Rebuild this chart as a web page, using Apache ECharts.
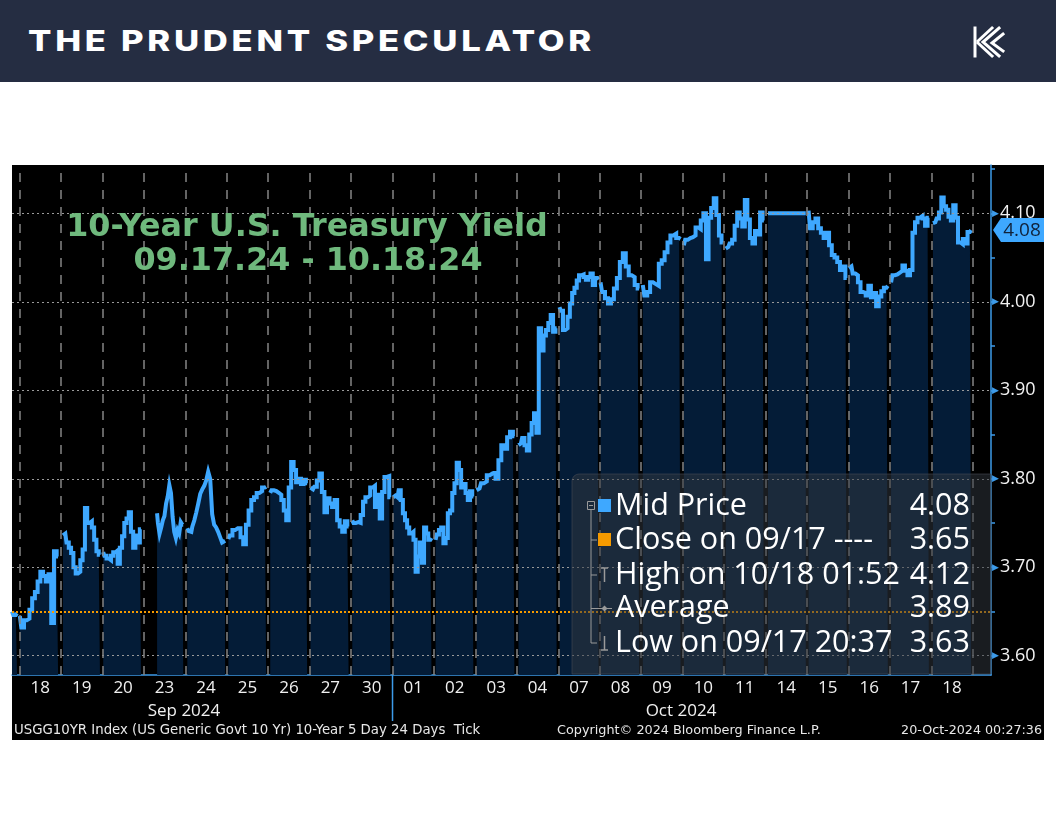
<!DOCTYPE html>
<html>
<head>
<meta charset="utf-8">
<script src="https://cdn.jsdelivr.net/npm/echarts@6/dist/echarts.min.js"></script>
<style>
html,body{margin:0;padding:0;background:#ffffff;}
#wrap{position:relative;width:1056px;height:816px;overflow:hidden;background:#ffffff;}
#chart{position:absolute;left:0;top:0;width:1056px;height:816px;}
#hdr{position:absolute;left:0;top:0;width:1056px;height:82px;background:#252d42;z-index:5;}
#hdrText{position:absolute;left:28px;top:0;height:82px;line-height:82px;color:#ffffff;font-family:Inter,'DejaVu Sans',sans-serif;font-weight:800;font-size:28px;letter-spacing:3px;white-space:nowrap;transform-origin:0 50%;}
#logo{position:absolute;left:968px;top:22px;}
</style>
</head>
<body>
<div id="wrap">
  <div id="chart"></div>
  <div id="hdr">
    <div id="hdrText">THE PRUDENT SPECULATOR</div>
    <svg id="logo" width="40" height="40" viewBox="0 0 40 40">
      <g fill="none" stroke="#ffffff" stroke-width="3" stroke-linecap="square">
        <path d="M7 6 L7 34"/>
        <path d="M31 6 L15 20 L31 34"/>
        <path d="M24 6 L10 19"/>
        <path d="M10 21 L24 34"/>
        <path d="M35 12 L24 21 L35 29"/>
      </g>
    </svg>
  </div>
</div>
<script>
// ---------------- DATA ----------------
const dayLabels = ['18','19','20','23','24','25','26','27','30','01','02','03','04','07','08','09','10','11','14','15','16','17','18'];
const monthLabels = ['Sep 2024', 'Oct 2024'];
const yLabelValues = [3.60, 3.70, 3.80, 3.90, 4.00, 4.10];
const yTickValues = [3.60, 3.65, 3.70, 3.75, 3.80, 3.85, 3.90, 3.95, 4.00, 4.05, 4.10, 4.15];

// intraday mid yields per trading session
const sep17 = [3.650, 3.646, 3.648];
const sep18 = [3.645, 3.632, 3.640, 3.642, 3.652, 3.665, 3.672, 3.684, 3.695, 3.690, 3.684, 3.692, 3.637, 3.718, 3.712];
const sep19 = [3.736, 3.738, 3.728, 3.722, 3.716, 3.700, 3.693, 3.695, 3.708, 3.720, 3.767, 3.750, 3.752, 3.745, 3.731, 3.718, 3.714];
const sep20 = [3.717, 3.713, 3.710, 3.708, 3.713, 3.717, 3.719, 3.704, 3.722, 3.735, 3.750, 3.755, 3.762, 3.740, 3.722, 3.736, 3.728, 3.743];
const sep23 = [3.761, 3.750, 3.738, 3.745, 3.753, 3.758, 3.772, 3.780, 3.793, 3.784, 3.757, 3.740, 3.733, 3.742, 3.738, 3.751, 3.748];
const sep24 = [3.744, 3.741, 3.740, 3.746, 3.753, 3.762, 3.772, 3.783, 3.788, 3.792, 3.798, 3.808, 3.800, 3.760, 3.748, 3.745, 3.740, 3.734, 3.728, 3.730];
const sep25 = [3.732, 3.736, 3.742, 3.744, 3.744, 3.734, 3.726, 3.748, 3.764, 3.776, 3.779, 3.784, 3.786, 3.790, 3.791];
const sep26 = [3.784, 3.787, 3.786, 3.784, 3.782, 3.776, 3.764, 3.753, 3.790, 3.819, 3.810, 3.796, 3.800, 3.794, 3.799, 3.795];
const sep27 = [3.790, 3.788, 3.791, 3.798, 3.806, 3.785, 3.762, 3.778, 3.772, 3.768, 3.776, 3.753, 3.746, 3.740, 3.752, 3.746];
const sep30 = [3.753, 3.750, 3.751, 3.750, 3.759, 3.774, 3.779, 3.781, 3.790, 3.792, 3.768, 3.782, 3.755, 3.785, 3.802, 3.803, 3.779];
const oct01 = [3.779, 3.781, 3.779, 3.787, 3.776, 3.761, 3.753, 3.745, 3.738, 3.740, 3.731, 3.695, 3.712, 3.728, 3.705, 3.745, 3.738, 3.731, 3.733];
const oct02 = [3.731, 3.737, 3.742, 3.745, 3.727, 3.733, 3.761, 3.764, 3.784, 3.795, 3.818, 3.810, 3.790, 3.794, 3.784, 3.776, 3.786, 3.780];
const oct03 = [3.787, 3.789, 3.795, 3.797, 3.804, 3.806, 3.807, 3.800, 3.821, 3.838, 3.834, 3.847, 3.853, 3.848];
const oct04 = [3.838, 3.840, 3.846, 3.838, 3.832, 3.850, 3.863, 3.874, 3.852, 3.970, 3.945, 3.962, 3.968, 3.976, 3.985, 3.966, 3.970];
const oct07 = [3.994, 3.990, 3.968, 3.970, 3.983, 3.998, 4.010, 4.016, 4.024, 4.030, 4.031, 4.028, 4.025, 4.028, 4.032, 4.019, 4.027, 4.025];
const oct08 = [4.022, 4.011, 4.004, 3.998, 4.003, 4.015, 4.027, 4.045, 4.055, 4.040, 4.030, 4.028, 4.019, 4.015];
const oct09 = [4.019, 4.007, 4.011, 4.022, 4.020, 4.018, 4.043, 4.047, 4.056, 4.067, 4.075, 4.077, 4.072, 4.071];
const oct10 = [4.064, 4.070, 4.072, 4.073, 4.075, 4.084, 4.082, 4.092, 4.100, 4.048, 4.095, 4.106, 4.117, 4.098, 4.075, 4.067];
const oct11 = [4.060, 4.062, 4.066, 4.070, 4.086, 4.101, 4.094, 4.085, 4.115, 4.093, 4.072, 4.066, 4.080, 4.076, 4.101, 4.092];
const oct14 = [4.100, 4.100, 4.100, 4.100, 4.100, 4.100, 4.100, 4.100];
const oct15 = [4.103, 4.083, 4.090, 4.094, 4.083, 4.078, 4.072, 4.078, 4.064, 4.053, 4.050, 4.045, 4.036, 4.040, 4.027];
const oct16 = [4.038, 4.040, 4.032, 4.030, 4.022, 4.011, 4.010, 4.007, 4.018, 4.005, 4.010, 3.995, 4.006, 4.012, 4.016, 4.018];
const oct17 = [4.022, 4.030, 4.031, 4.033, 4.035, 4.041, 4.035, 4.030, 4.036, 4.078, 4.090, 4.095, 4.097, 4.094, 4.086, 4.095];
const oct18 = [4.089, 4.090, 4.094, 4.101, 4.118, 4.108, 4.104, 4.096, 4.092, 4.109, 4.095, 4.067, 4.065, 4.071, 4.066, 4.079, 4.081];

// session open / close times, in trading-day units (0 = start of Sep 18 slot)
const sessionOpen  = [-0.18, 0.01, 1.05, 2.02, 3.32, 4.05, 5.04, 6.05, 7.02, 8.03, 9.02, 10.04, 11.03, 12.04, 13.03, 14.02, 15.04, 16.03, 17.04, 18.06, 19.04, 20.01, 21.03, 22.04];
const sessionClose = [-0.06, 0.93, 1.94, 2.93, 3.95, 4.96, 5.95, 6.94, 7.94, 8.95, 9.94, 10.95, 11.94, 12.96, 13.97, 14.95, 15.95, 16.97, 17.96, 18.97, 19.96, 20.95, 21.94, 22.96];
const sessions = [sep17, sep18, sep19, sep20, sep23, sep24, sep25, sep26, sep27, sep30, oct01, oct02, oct03, oct04, oct07, oct08, oct09, oct10, oct11, oct14, oct15, oct16, oct17, oct18];

// legend statistics
const closeSep17 = 3.65;
const highValue = 4.12;
const averageValue = 3.89;
const lowValue = 3.63;
const legendLabels = ['Mid Price', 'Close on 09/17 ----', 'High on 10/18 01:52', 'Average', 'Low on 09/17 20:37'];

// ---------------- BUILD ----------------
const points = [];
sessions.forEach((vals, i) => {
  const a = sessionOpen[i], b = sessionClose[i];
  if (i > 0) points.push([a - 0.002, '-']);
  vals.forEach((v, j) => points.push([a + (b - a) * j / (vals.length - 1), v]));
  points.push([b + 0.002, '-']);
});
const lastValue = oct18[oct18.length - 1];
const legendValues = [lastValue, closeSep17, highValue, averageValue, lowValue].map(v => v.toFixed(2));

const BLUE = '#3ea8ff';
const AXISBLUE = '#3d9be9';
const labelFont = "'Open Sans', 'Noto Sans', sans-serif";

const dayBoundaries = [];
for (let k = 0; k <= dayLabels.length; k++) dayBoundaries.push(k);
const dayCenters = dayLabels.map((d, i) => i + 0.5);

const chart = echarts.init(document.getElementById('chart'), null, {renderer: 'canvas'});

const option = {
  animation: false,
  backgroundColor: 'transparent',
  grid: {left: 12, right: 65, top: 165, bottom: 141, containLabel: false},
  xAxis: {
    type: 'value', min: -0.181, max: 23.44,
    axisLine: {show: true, onZero: false, lineStyle: {color: AXISBLUE, width: 1.5}},
    axisTick: {show: false},
    splitLine: {show: false},
    axisLabel: {
      customValues: dayCenters,
      formatter: v => dayLabels[Math.round(v - 0.5)] || '',
      color: '#f0f0f0', fontSize: 17, fontFamily: labelFont, margin: 5
    }
  },
  yAxis: {
    type: 'value', position: 'right', min: 3.5782, max: 4.1546,
    axisLine: {show: true, onZero: false, lineStyle: {color: AXISBLUE, width: 1.5}},
    axisTick: {show: true, customValues: yTickValues, length: 4, lineStyle: {color: AXISBLUE, width: 1.5}},
    splitLine: {show: false},
    axisLabel: {
      customValues: yLabelValues, margin: 1,
      formatter: v => '{t|\u25B6}{v|' + v.toFixed(2) + '}',
      rich: {
        t: {fontSize: 9, color: AXISBLUE, fontFamily: 'DejaVu Sans', padding: [0, 1, 0, 0]},
        v: {fontSize: 18, color: '#f2f2f2', fontFamily: labelFont}
      }
    }
  },
  series: [
    {
      name: 'area', type: 'line', data: points, showSymbol: false, silent: true, z: 1,
      connectNulls: false, step: 'middle',
      lineStyle: {width: 0, opacity: 0},
      areaStyle: {color: '#041c37', opacity: 1}
    },
    {
      name: 'grid', type: 'line', data: [[0, 3.7]], showSymbol: false, silent: true, z: 2,
      lineStyle: {opacity: 0},
      markLine: {
        silent: true, symbol: ['none', 'none'], animation: false, label: {show: false},
        data: [
          ...yLabelValues.map(v => ({yAxis: v, lineStyle: {color: '#9a9a9a', width: 1, type: [2, 3]}})),
          ...dayBoundaries.map(k => ({xAxis: k, lineStyle: {color: '#858585', width: 1.5, type: [9, 8]}}))
        ]
      }
    },
    {
      name: 'Mid Price', type: 'line', data: points, showSymbol: false, silent: true, z: 3,
      connectNulls: false, step: 'middle',
      lineStyle: {color: BLUE, width: 4, join: 'miter'}
    },
    {
      name: 'close', type: 'line', data: [[0, closeSep17]], showSymbol: false, silent: true, z: 4,
      lineStyle: {opacity: 0},
      markLine: {
        silent: true, symbol: ['none', 'none'], animation: false, label: {show: false},
        data: [{yAxis: closeSep17, lineStyle: {color: '#f59a00', width: 2, type: [2, 2]}}]
      }
    }
  ]
};
chart.setOption(option);

// ---------------- ANNOTATIONS ----------------
const py = chart.convertToPixel({yAxisIndex: 0}, lastValue);
const xOct = chart.convertToPixel({xAxisIndex: 0}, 9);
const gray = '#9a9a9a';
const rowY = [506, 540, 575, 608.5, 643];
const els = [];
// black chart panel
els.push({type: 'rect', z: -100, shape: {x: 12, y: 165, width: 1032, height: 575}, style: {fill: '#000000'}});
// title
els.push({type: 'text', z: 60, style: {text: '10-Year U.S. Treasury Yield', x: 307, y: 228, align: 'center', verticalAlign: 'middle', fill: '#6fb97d', font: "bold 31.8px 'DejaVu Sans'"}});
els.push({type: 'text', z: 60, style: {text: '09.17.24 - 10.18.24', x: 308, y: 262, align: 'center', verticalAlign: 'middle', fill: '#6fb97d', font: "bold 31.8px 'DejaVu Sans'"}});
// month labels and separator
els.push({type: 'text', z: 60, style: {text: monthLabels[0], x: 184, y: 711, align: 'center', verticalAlign: 'middle', fill: '#f0f0f0', font: "17px " + labelFont}});
els.push({type: 'text', z: 60, style: {text: monthLabels[1], x: 681, y: 711, align: 'center', verticalAlign: 'middle', fill: '#f0f0f0', font: "17px " + labelFont}});
els.push({type: 'line', z: 60, shape: {x1: xOct, y1: 675, x2: xOct, y2: 721}, style: {stroke: AXISBLUE, lineWidth: 1.5}});
// footer
els.push({type: 'text', z: 60, style: {text: 'USGG10YR Index (US Generic Govt 10 Yr) 10-Year 5 Day 24 Days  Tick', x: 14, y: 731, align: 'left', verticalAlign: 'middle', fill: '#e8e8e8', font: "13.3px 'DejaVu Sans'"}});
els.push({type: 'text', z: 60, style: {text: 'Copyright\u00A9 2024 Bloomberg Finance L.P.', x: 557, y: 731, align: 'left', verticalAlign: 'middle', fill: '#e8e8e8', font: "12.8px 'DejaVu Sans'"}});
els.push({type: 'text', z: 60, style: {text: '20-Oct-2024 00:27:36', x: 1042, y: 731, align: 'right', verticalAlign: 'middle', fill: '#e8e8e8', font: "12.7px 'DejaVu Sans'"}});
// legend box
els.push({type: 'rect', z: 40, shape: {x: 572, y: 474, width: 419, height: 200, r: [7, 0, 0, 0]}, style: {fill: 'rgba(50,55,64,0.5)', stroke: 'rgba(70,75,85,0.6)', lineWidth: 1}});
els.push({type: 'rect', z: 41, shape: {x: 587.5, y: 501.5, width: 7, height: 8}, style: {fill: 'none', stroke: gray, lineWidth: 1}});
els.push({type: 'line', z: 41, shape: {x1: 589, y1: 505.5, x2: 593, y2: 505.5}, style: {stroke: gray, lineWidth: 1}});
els.push({type: 'line', z: 41, shape: {x1: 591, y1: 509.5, x2: 591, y2: 643}, style: {stroke: gray, lineWidth: 1}});
rowY.slice(1).forEach(y => els.push({type: 'line', z: 41, shape: {x1: 591, y1: y, x2: 597, y2: y}, style: {stroke: gray, lineWidth: 1}}));
els.push({type: 'rect', z: 41, shape: {x: 598, y: rowY[0] - 7, width: 13, height: 13}, style: {fill: BLUE}});
els.push({type: 'rect', z: 41, shape: {x: 598, y: rowY[1] - 7, width: 13, height: 13}, style: {fill: '#f59a00'}});
// high icon
els.push({type: 'line', z: 41, shape: {x1: 604.5, y1: rowY[2] - 7, x2: 604.5, y2: rowY[2] + 7}, style: {stroke: gray, lineWidth: 1.5}});
els.push({type: 'line', z: 41, shape: {x1: 601, y1: rowY[2] - 7, x2: 608, y2: rowY[2] - 7}, style: {stroke: gray, lineWidth: 1.5}});
// average icon
els.push({type: 'line', z: 41, shape: {x1: 597, y1: rowY[3], x2: 612, y2: rowY[3]}, style: {stroke: gray, lineWidth: 1}});
els.push({type: 'polygon', z: 41, shape: {points: [[604.5, rowY[3] - 3], [607.5, rowY[3]], [604.5, rowY[3] + 3], [601.5, rowY[3]]]}, style: {fill: gray}});
// low icon
els.push({type: 'line', z: 41, shape: {x1: 604.5, y1: rowY[4] - 7, x2: 604.5, y2: rowY[4] + 7}, style: {stroke: gray, lineWidth: 1.5}});
els.push({type: 'line', z: 41, shape: {x1: 601, y1: rowY[4] + 7, x2: 608, y2: rowY[4] + 7}, style: {stroke: gray, lineWidth: 1.5}});
legendLabels.forEach((t, i) => {
  els.push({type: 'text', z: 42, style: {text: t, x: 615, y: rowY[i], align: 'left', verticalAlign: 'middle', fill: '#ffffff', font: "30.5px " + labelFont}});
  els.push({type: 'text', z: 42, style: {text: legendValues[i], x: 970, y: rowY[i], align: 'right', verticalAlign: 'middle', fill: '#ffffff', font: "30.5px " + labelFont}});
});
// last value tag
els.push({type: 'polygon', z: 70, shape: {points: [[993, py], [1001, py - 12], [1044, py - 12], [1044, py + 12], [1001, py + 12]]}, style: {fill: BLUE}});
els.push({type: 'text', z: 71, style: {text: lastValue.toFixed(2), x: 1022, y: py + 0.5, align: 'center', verticalAlign: 'middle', fill: '#10223a', font: "19px " + labelFont}});

chart.setOption({graphic: {elements: els}});

// fit header text width
const ht = document.getElementById('hdrText');
const w = ht.getBoundingClientRect().width;
ht.style.transform = 'scaleX(' + (567 / w) + ')';
</script>
</body>
</html>
